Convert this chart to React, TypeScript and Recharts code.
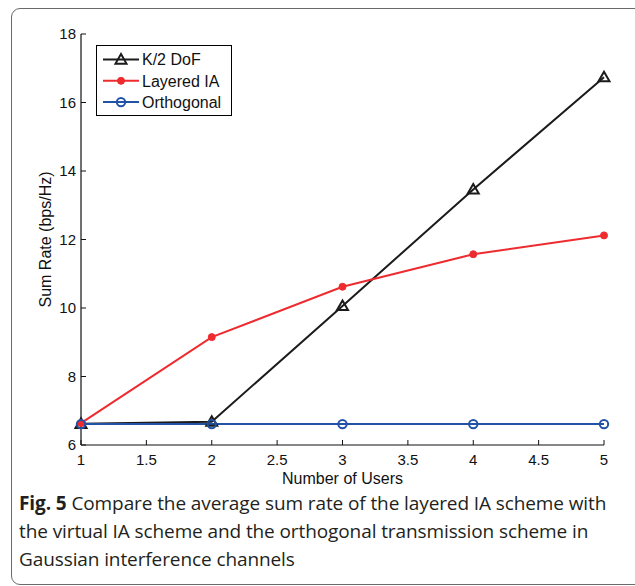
import React from 'react';
import { LineChart, Line, XAxis, YAxis, Label } from 'recharts';

const users = [1, 2, 3, 4, 5];
const dofK2 = [6.62, 6.68, 10.06, 13.46, 16.74];
const layeredIA = [6.64, 9.15, 10.62, 11.57, 12.12];
const orthogonal = [6.61, 6.61, 6.61, 6.61, 6.61];
const xTicks = [1, 1.5, 2, 2.5, 3, 3.5, 4, 4.5, 5];
const yTicks = [6, 8, 10, 12, 14, 16, 18];
const seriesNames = ['K/2 DoF', 'Layered IA', 'Orthogonal'];

const data = users.map((u, i) => ({ u, dof: dofK2[i], lia: layeredIA[i], orth: orthogonal[i] }));

const BLACK = '#1b1b1b';
const RED = '#ee2b2f';
const BLUE = '#2152a6';
const FONT = '"Liberation Sans", Arial, sans-serif';

const Tri = (props: any) => {
  const { cx, cy } = props;
  if (cx == null || cy == null) return null;
  const s = 5.5;
  return (
    <path
      d={`M${cx},${cy - s} L${cx + s},${cy + s * 0.75} L${cx - s},${cy + s * 0.75} Z`}
      fill="none"
      stroke={BLACK}
      strokeWidth={2}
    />
  );
};

const RedDot = (props: any) => {
  const { cx, cy } = props;
  if (cx == null || cy == null) return null;
  return <circle cx={cx} cy={cy} r={3.5} fill={RED} stroke={RED} strokeWidth={1} />;
};

const BlueCircle = (props: any) => {
  const { cx, cy } = props;
  if (cx == null || cy == null) return null;
  return <circle cx={cx} cy={cy} r={4.2} fill="none" stroke={BLUE} strokeWidth={2} />;
};

const legendItems = [
  { name: seriesNames[0], color: BLACK, Marker: Tri },
  { name: seriesNames[1], color: RED, Marker: RedDot },
  { name: seriesNames[2], color: BLUE, Marker: BlueCircle },
];

const LegendBox = () => (
  <svg width={136} height={71} style={{ display: 'block' }}>
    <rect x={0.5} y={0.5} width={135} height={70} fill="#fff" stroke="#000" strokeWidth={1} />
    {legendItems.map((it, i) => {
      const y = 14.5 + i * 21.3;
      const M = it.Marker;
      return (
        <g key={it.name}>
          <line x1={7} x2={43} y1={y} y2={y} stroke={it.color} strokeWidth={2} />
          <M cx={25} cy={y} />
          <text x={46} y={y + 5.8} fontSize={16} fontFamily={FONT} fill="#111">
            {it.name}
          </text>
        </g>
      );
    })}
  </svg>
);

export default function App() {
  return (
    <div style={{ position: 'absolute', left: 0, top: 0, width: 635, height: 586, overflow: 'hidden', background: '#fff' }}>
      <div
        style={{
          position: 'absolute',
          left: 11,
          top: 8,
          width: 700,
          height: 575,
          border: '1px solid #6a6a6a',
          borderRadius: 9,
        }}
      />
      <div style={{ position: 'absolute', left: 0, top: 0 }}>
        <LineChart width={635} height={490} data={data} margin={{ top: 34, right: 31, bottom: 5, left: 41 }}>
          <XAxis
            dataKey="u"
            type="number"
            domain={[1, 5]}
            ticks={xTicks}
            allowDecimals
            height={40}
            tickSize={-5}
            tickMargin={14}
            stroke="#111"
            tick={{ fill: '#111', fontSize: 15, fontFamily: FONT }}
            axisLine={{ stroke: '#111', strokeWidth: 1.2 }}
            tickLine={{ stroke: '#111' }}
          >
            <Label value="Number of Users" position="insideBottom" offset={1} style={{ fill: '#111', fontSize: 16, fontFamily: FONT }} />
          </XAxis>
          <YAxis
            type="number"
            domain={[6, 18]}
            ticks={yTicks}
            width={40}
            tickSize={-5}
            tickMargin={10}
            stroke="#111"
            tick={{ fill: '#111', fontSize: 15, fontFamily: FONT }}
            axisLine={{ stroke: '#111', strokeWidth: 1.2 }}
            tickLine={{ stroke: '#111' }}
          >
            <Label value="Sum Rate (bps/Hz)" angle={-90} position="insideLeft" offset={4} style={{ fill: '#111', fontSize: 16, fontFamily: FONT, textAnchor: 'middle' }} />
          </YAxis>
          <Line name={seriesNames[0]} dataKey="dof" stroke={BLACK} strokeWidth={2} dot={<Tri />} isAnimationActive={false} />
          <Line name={seriesNames[1]} dataKey="lia" stroke={RED} strokeWidth={2} dot={<RedDot />} isAnimationActive={false} />
          <Line name={seriesNames[2]} dataKey="orth" stroke={BLUE} strokeWidth={2} dot={<BlueCircle />} isAnimationActive={false} />
        </LineChart>
      </div>
      <div style={{ position: 'absolute', left: 96, top: 45 }}>
        <LegendBox />
      </div>
      <div
        style={{
          position: 'absolute',
          left: 19,
          top: 489,
          width: 615,
          whiteSpace: 'nowrap',
          fontFamily: '"Open Sans", "Noto Sans", sans-serif',
          fontSize: 19,
          lineHeight: '28px',
          color: '#231f20',
          letterSpacing: -0.1,
        }}
      >
        <b>Fig. 5</b> Compare the average sum rate of the layered IA scheme with
        <br />
        the virtual IA scheme and the orthogonal transmission scheme in
        <br />
        Gaussian interference channels
      </div>
    </div>
  );
}
